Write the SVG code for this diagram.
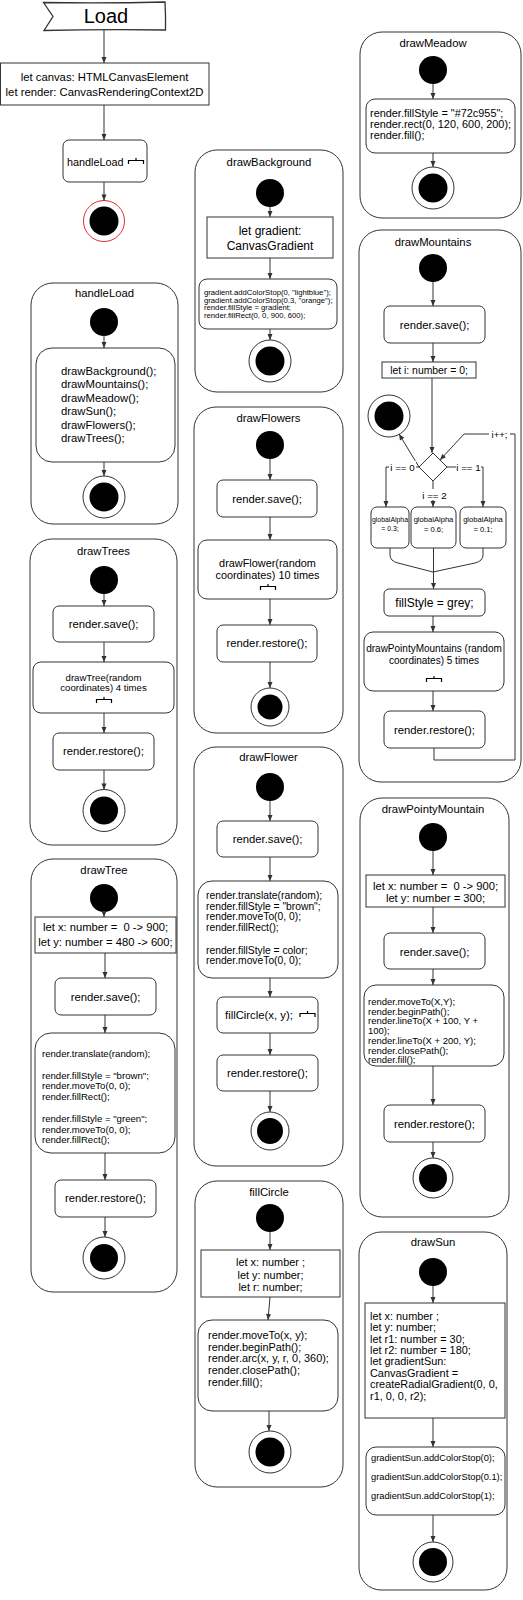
<svg xmlns="http://www.w3.org/2000/svg" width="523" height="1600" viewBox="0 0 523 1600">
<defs>
<style>
text{font-family:"Liberation Sans",Arial,Helvetica,sans-serif;font-size:11.3px;fill:#000}
.m{text-anchor:middle}
.c{fill:#fff;stroke:#333;stroke-width:1}
.b{fill:#fff;stroke:#333;stroke-width:1}
.s{fill:#000}
.fo{fill:#fff;stroke:#333;stroke-width:1}
.e{fill:none;stroke:#333;stroke-width:1;marker-end:url(#a)}
.l{fill:none;stroke:#333;stroke-width:1}
.rk{fill:none;stroke:#000;stroke-width:1.2}
.lb{fill:#fff}
.f7{font-size:7.7px}
.f9{font-size:9.6px}
.f10{font-size:10px}
.f11{font-size:10.9px}
.fb{font-size:10.3px}
.fp{font-size:9.5px}
.f12{font-size:11.2px}
</style>
<marker id="a" markerWidth="8" markerHeight="8" refX="7" refY="4" orient="auto" markerUnits="userSpaceOnUse"><path d="M1,1.5 L7,4 L1,6.5 Z" fill="#333"/></marker>
<path id="rk" d="M0,6 V2.5 H15 V6 M7.5,2.5 V0" class="rk"/>
</defs>
<rect width="523" height="1600" fill="#fff"/>

<g id="load"><path d="M43.5,2.5 Q104,3.5 165,2 Q165.8,16 165.5,30 Q104,29.2 44,30.5 L53,16.5 L43.5,2.5 Z" fill="#fff" stroke="#333" stroke-width="1.3"/><text x="106" y="22.5" class="m" style="font-size:20px">Load</text></g>
<g id="vars"><rect x="0.5" y="63" width="208.5" height="42" class="b"/><text x="104.5" y="81" class="m">let canvas: HTMLCanvasElement</text><text x="104.5" y="96" class="m">let render: CanvasRenderingContext2D</text></g>
<g id="handleLoadCall"><rect x="63" y="140" width="84" height="42" rx="6" class="b"/><text x="67" y="166" style="font-size:10.8px">handleLoad</text><use href="#rk" x="128.5" y="158"/></g>
<g id="mainEnd"><circle cx="104" cy="221" r="20.5" fill="#fff" stroke="#e03030"/><circle cx="104" cy="221" r="14.5" class="s"/></g>

<g id="c-handleLoad"><rect x="31" y="283" width="147" height="241" rx="22" class="c"/><text x="104.5" y="297" class="m">handleLoad</text>
<g id="hl-start"><circle cx="104" cy="322" r="14" class="s"/></g>
<g id="hl-calls"><rect x="36" y="348" width="139" height="114" rx="16" class="b"/><text x="61" y="374.7">drawBackground();</text><text x="61" y="388.2">drawMountains();</text><text x="61" y="401.7">drawMeadow();</text><text x="61" y="415.2">drawSun();</text><text x="61" y="428.7">drawFlowers();</text><text x="61" y="442.2">drawTrees();</text></g>
<g id="hl-end"><circle cx="104" cy="497" r="21" class="fo"/><circle cx="104" cy="497" r="14.5" class="s"/></g></g>

<g id="c-drawTrees"><rect x="30" y="539" width="147" height="306" rx="22" class="c"/><text x="103.5" y="555" class="m">drawTrees</text>
<g id="dts-start"><circle cx="104" cy="580" r="14" class="s"/></g>
<g id="dts-save"><rect x="53" y="606" width="101" height="36" rx="6" class="b"/><text x="103.5" y="628" class="m">render.save();</text></g>
<g id="dts-call"><rect x="33" y="662" width="141" height="51" rx="8" class="b"/><text x="103.5" y="680.5" class="m f9">drawTree(random</text><text x="103.5" y="691" class="m f9">coordinates) 4 times</text><use href="#rk" x="96.5" y="697"/></g>
<g id="dts-restore"><rect x="53" y="733" width="101" height="37" rx="6" class="b"/><text x="103.5" y="755" class="m">render.restore();</text></g>
<g id="dts-end"><circle cx="104" cy="810.5" r="21" class="fo"/><circle cx="104" cy="810.5" r="14" class="s"/></g></g>

<g id="c-drawTree"><rect x="31" y="859" width="146" height="433" rx="22" class="c"/><text x="104" y="874" class="m">drawTree</text>
<g id="dt-start"><circle cx="104" cy="898" r="14" class="s"/></g>
<g id="dt-vars"><rect x="35" y="917" width="141" height="36" class="b"/><text x="105.5" y="931" class="m f12">let x: number = &#160;0 -&gt; 900;</text><text x="105.5" y="946" class="m f12">let y: number = 480 -&gt; 600;</text></g>
<g id="dt-save"><rect x="55" y="978" width="101" height="37" rx="6" class="b"/><text x="105.5" y="1001" class="m">render.save();</text></g>
<g id="dt-body"><rect x="35" y="1033" width="140" height="120" rx="16" class="b"/>
<text x="42" y="1056.5" class="f9">render.translate(random);</text>
<text x="42" y="1078.5" class="f9">render.fillStyle = "brown";</text>
<text x="42" y="1089" class="f9">render.moveTo(0, 0);</text>
<text x="42" y="1099.5" class="f9">render.fillRect();</text>
<text x="42" y="1121.5" class="f9">render.fillStyle = "green";</text>
<text x="42" y="1132.5" class="f9">render.moveTo(0, 0);</text>
<text x="42" y="1143" class="f9">render.fillRect();</text></g>
<g id="dt-restore"><rect x="55" y="1180" width="101" height="37" rx="6" class="b"/><text x="105.5" y="1202" class="m">render.restore();</text></g>
<g id="dt-end"><circle cx="104" cy="1258" r="21" class="fo"/><circle cx="104" cy="1258" r="14" class="s"/></g></g>

<g id="c-drawBackground"><rect x="195" y="150" width="148" height="242" rx="22" class="c"/><text x="269" y="166" class="m">drawBackground</text>
<g id="db-start"><circle cx="270" cy="193" r="14" class="s"/></g>
<g id="db-var"><rect x="207" y="217" width="126" height="41" class="b"/><text x="270" y="234.5" class="m" style="font-size:12px">let gradient:</text><text x="270" y="249.5" class="m" style="font-size:12px">CanvasGradient</text></g>
<g id="db-body"><rect x="199" y="279" width="138" height="50" rx="8" class="b"/>
<text x="204" y="294.8" class="f7">gradient.addColorStop(0, "lightblue");</text>
<text x="204" y="302.6" class="f7">gradient.addColorStop(0.3, "orange");</text>
<text x="204" y="310.4" class="f7">render.fillStyle = gradient;</text>
<text x="204" y="318.2" class="f7">render.fillRect(0, 0, 900, 600);</text></g>
<g id="db-end"><circle cx="270" cy="361" r="21" class="fo"/><circle cx="270" cy="361" r="14.5" class="s"/></g></g>

<g id="c-drawFlowers"><rect x="194" y="407" width="149" height="326" rx="22" class="c"/><text x="268.5" y="422" class="m">drawFlowers</text>
<g id="dfs-start"><circle cx="270" cy="445" r="14" class="s"/></g>
<g id="dfs-save"><rect x="217" y="480" width="100" height="37" rx="6" class="b"/><text x="267" y="503" class="m">render.save();</text></g>
<g id="dfs-call"><rect x="198" y="540" width="139" height="59" rx="9" class="b"/><text x="267.5" y="567" class="m f11">drawFlower(random</text><text x="267.5" y="579" class="m f11">coordinates) 10 times</text><use href="#rk" x="260.5" y="584"/></g>
<g id="dfs-restore"><rect x="217" y="625" width="100" height="37" rx="6" class="b"/><text x="267" y="647" class="m">render.restore();</text></g>
<g id="dfs-end"><circle cx="270" cy="707" r="19" class="fo"/><circle cx="270" cy="707" r="12.5" class="s"/></g></g>

<g id="c-drawFlower"><rect x="194" y="747" width="149" height="419" rx="22" class="c"/><text x="268.5" y="761" class="m">drawFlower</text>
<g id="df-start"><circle cx="270" cy="787" r="14" class="s"/></g>
<g id="df-save"><rect x="217" y="821" width="101" height="36" rx="6" class="b"/><text x="267.5" y="843" class="m">render.save();</text></g>
<g id="df-body"><rect x="198" y="881" width="140" height="97" rx="14" class="b"/>
<text x="206" y="898.8" class="fb">render.translate(random);</text>
<text x="206" y="909.5" class="fb">render.fillStyle = "brown";</text>
<text x="206" y="920" class="fb">render.moveTo(0, 0);</text>
<text x="206" y="930.5" class="fb">render.fillRect();</text>
<text x="206" y="953.5" class="fb">render.fillStyle = color;</text>
<text x="206" y="964" class="fb">render.moveTo(0, 0);</text></g>
<g id="df-fill"><rect x="217" y="997" width="101" height="36" rx="6" class="b"/><text x="225" y="1019">fillCircle(x, y);</text><use href="#rk" x="300" y="1011"/></g>
<g id="df-restore"><rect x="217" y="1055" width="101" height="36" rx="6" class="b"/><text x="267.5" y="1077" class="m">render.restore();</text></g>
<g id="df-end"><circle cx="270" cy="1131" r="19" class="fo"/><circle cx="270" cy="1131" r="13" class="s"/></g></g>

<g id="c-fillCircle"><rect x="195" y="1181" width="148" height="306" rx="22" class="c"/><text x="269" y="1196" class="m">fillCircle</text>
<g id="fc-start"><circle cx="270" cy="1218" r="14" class="s"/></g>
<g id="fc-vars"><rect x="201" y="1250" width="139" height="47" class="b"/><text x="270.5" y="1266" class="m f11">let x: number ;</text><text x="270.5" y="1278.5" class="m f11">let y: number;</text><text x="270.5" y="1291" class="m f11">let r: number;</text></g>
<g id="fc-body"><rect x="198" y="1320" width="140" height="91" rx="14" class="b"/>
<text x="208" y="1339" class="f11">render.moveTo(x, y);</text>
<text x="208" y="1350.7" class="f11">render.beginPath();</text>
<text x="208" y="1362.4" class="f11">render.arc(x, y, r, 0, 360);</text>
<text x="208" y="1374.1" class="f11">render.closePath();</text>
<text x="208" y="1385.8" class="f11">render.fill();</text></g>
<g id="fc-end"><circle cx="270" cy="1452" r="21" class="fo"/><circle cx="270" cy="1452" r="14.5" class="s"/></g></g>

<g id="c-drawMeadow"><rect x="360" y="32" width="161" height="186" rx="22" class="c"/><text x="433" y="47" class="m">drawMeadow</text>
<g id="dm-start"><circle cx="433" cy="70" r="14" class="s"/></g>
<g id="dm-body"><rect x="366" y="99" width="149" height="54" rx="9" class="b"/>
<text x="370" y="117" class="f11">render.fillStyle = "#72c955";</text>
<text x="370" y="128.2" class="f11">render.rect(0, 120, 600, 200);</text>
<text x="370" y="139.4" class="f11">render.fill();</text></g>
<g id="dm-end"><circle cx="433" cy="188" r="21" class="fo"/><circle cx="433" cy="188" r="14.5" class="s"/></g></g>

<g id="c-drawMountains"><rect x="359" y="230" width="162" height="552" rx="22" class="c"/><text x="433" y="246" class="m">drawMountains</text>
<g id="mt-start"><circle cx="433" cy="268" r="14" class="s"/></g>
<g id="mt-save"><rect x="384" y="306" width="101" height="37" rx="6" class="b"/><text x="434.5" y="329" class="m">render.save();</text></g>
<g id="mt-i"><rect x="382" y="362" width="94" height="16" class="b"/><text x="429" y="374" class="m" style="font-size:10.4px">let i: number = 0;</text></g>
<g id="mt-end"><circle cx="389" cy="416" r="21" class="fo"/><circle cx="389" cy="416" r="14.5" class="s"/></g>
<g id="mt-dec"><path d="M433,453 L447,467 L433,481 L419,467 Z" class="b"/></g>
<g id="mt-a1"><rect x="371" y="507" width="38" height="41" rx="6" class="b"/><text x="390" y="521.5" class="m" style="font-size:6.9px">globalAlpha</text><text x="390" y="530.5" class="m" style="font-size:6.9px">= 0.3;</text></g>
<g id="mt-a2"><rect x="411" y="507" width="45" height="41" rx="6" class="b"/><text x="433.5" y="522" class="m" style="font-size:7.6px">globalAlpha</text><text x="433.5" y="532" class="m" style="font-size:7.6px">= 0.6;</text></g>
<g id="mt-a3"><rect x="460" y="507" width="46" height="41" rx="6" class="b"/><text x="483" y="522" class="m" style="font-size:7.6px">globalAlpha</text><text x="483" y="532" class="m" style="font-size:7.6px">= 0.1;</text></g>
<g id="mt-fill"><rect x="384" y="589" width="101" height="27" rx="5" class="b"/><text x="434.5" y="607" class="m" style="font-size:12px">fillStyle = grey;</text></g>
<g id="mt-call"><rect x="364" y="632" width="140" height="59" rx="9" class="b"/><text x="434" y="651.5" class="m f10">drawPointyMountains (random</text><text x="434" y="664" class="m f10">coordinates) 5 times</text><use href="#rk" x="426.5" y="676"/></g>
<g id="mt-restore"><rect x="384" y="711" width="101" height="37" rx="6" class="b"/><text x="434.5" y="734" class="m">render.restore();</text></g></g>

<g id="c-drawPointyMountain"><rect x="360" y="798" width="149" height="419" rx="22" class="c"/><text x="433" y="813" class="m">drawPointyMountain</text>
<g id="pm-start"><circle cx="433" cy="837" r="14" class="s"/></g>
<g id="pm-vars"><rect x="366" y="875" width="139" height="32" class="b"/><text x="435.5" y="890" class="m f12">let x: number = &#160;0 -&gt; 900;</text><text x="435.5" y="902" class="m f12">let y: number = 300;</text></g>
<g id="pm-save"><rect x="384" y="933" width="101" height="36" rx="6" class="b"/><text x="434.5" y="956" class="m">render.save();</text></g>
<g id="pm-body"><rect x="364" y="985" width="140" height="81" rx="12" class="b"/>
<text x="368" y="1005" class="fp">render.moveTo(X,Y);</text>
<text x="368" y="1014.7" class="fp">render.beginPath();</text>
<text x="368" y="1024.4" class="fp">render.lineTo(X + 100, Y +</text>
<text x="368" y="1034.1" class="fp">100);</text>
<text x="368" y="1043.8" class="fp">render.lineTo(X + 200, Y);</text>
<text x="368" y="1053.5" class="fp">render.closePath();</text>
<text x="368" y="1063.2" class="fp">render.fill();</text></g>
<g id="pm-restore"><rect x="384" y="1105" width="101" height="37" rx="6" class="b"/><text x="434.5" y="1127.5" class="m">render.restore();</text></g>
<g id="pm-end"><circle cx="433" cy="1178" r="20" class="fo"/><circle cx="433" cy="1178" r="14" class="s"/></g></g>

<g id="c-drawSun"><rect x="359" y="1232" width="148" height="358" rx="22" class="c"/><text x="433" y="1246" class="m">drawSun</text>
<g id="ds-start"><circle cx="433" cy="1272" r="14" class="s"/></g>
<g id="ds-vars"><rect x="365" y="1303" width="140" height="115" class="b"/>
<text x="370" y="1319.8" class="f11">let x: number ;</text>
<text x="370" y="1331.2" class="f11">let y: number;</text>
<text x="370" y="1342.6" class="f11">let r1: number = 30;</text>
<text x="370" y="1354" class="f11">let r2: number = 180;</text>
<text x="370" y="1365.4" class="f11">let gradientSun:</text>
<text x="370" y="1376.8" class="f11">CanvasGradient =</text>
<text x="370" y="1388.2" class="f11">createRadialGradient(0, 0,</text>
<text x="370" y="1399.6" class="f11">r1, 0, 0, r2);</text></g>
<g id="ds-body"><rect x="366" y="1447" width="139" height="68" rx="10" class="b"/>
<text x="371" y="1461.3" style="font-size:9.3px">gradientSun.addColorStop(0);</text>
<text x="371" y="1480.3" style="font-size:9.3px">gradientSun.addColorStop(0.1);</text>
<text x="371" y="1499.3" style="font-size:9.3px">gradientSun.addColorStop(1);</text></g>
<g id="ds-end"><circle cx="433" cy="1562" r="20" class="fo"/><circle cx="433" cy="1562" r="14" class="s"/></g></g>

<g id="connectors">
<path class="e" d="M104,30 V63"/>
<path class="e" d="M104,105 V140"/>
<path class="e" d="M104,182 V200.5"/>
<path class="e" d="M104,336 V348"/>
<path class="e" d="M104,462 V476"/>
<path class="e" d="M104,594 V606"/>
<path class="e" d="M104,642 V662"/>
<path class="e" d="M104,713 V733"/>
<path class="e" d="M104,770 V789.5"/>
<path class="e" d="M104,912 V917"/>
<path class="e" d="M105,953 V978"/>
<path class="e" d="M105,1015 V1033"/>
<path class="e" d="M105,1153 V1180"/>
<path class="e" d="M105,1217 V1237"/>
<path class="e" d="M270,207 V217"/>
<path class="e" d="M270,258 V279"/>
<path class="e" d="M270,329 V340"/>
<path class="e" d="M270,459 V480"/>
<path class="e" d="M270,517 V540"/>
<path class="e" d="M270,599 V625"/>
<path class="e" d="M270,662 V688"/>
<path class="e" d="M270,801 V821"/>
<path class="e" d="M270,857 V881"/>
<path class="e" d="M270,978 V997"/>
<path class="e" d="M270,1033 V1055"/>
<path class="e" d="M270,1091 V1112"/>
<path class="e" d="M270,1232 V1250"/>
<path class="e" d="M270,1297 L268,1320"/>
<path class="e" d="M269,1411 V1431"/>
<path class="e" d="M433,84 V99"/>
<path class="e" d="M433,153 V167"/>
<path class="e" d="M433,282 V306"/>
<path class="e" d="M433,343 V362"/>
<path class="e" d="M432,378 V453"/>
<path class="e" d="M419,467 L399,434"/>
<path class="e" d="M419,467 H386 V507"/>
<path class="e" d="M447,467 H483 V507"/>
<path class="e" d="M433,481 V507"/>
<path class="l" d="M390,548 V555 Q390,561 398,563 L433,572"/>
<path class="l" d="M483,548 V555 Q483,561 475,563 L433,572"/>
<path class="e" d="M433.5,548 V589"/>
<path class="e" d="M433,616 V632"/>
<path class="e" d="M433,691 V711"/>
<path class="e" d="M434,748 V760 H515 V434 H464 L440,460"/>
<path class="e" d="M433,851 V875"/>
<path class="e" d="M433,907 V933"/>
<path class="e" d="M433,969 V985"/>
<path class="e" d="M433,1066 V1105"/>
<path class="e" d="M433,1142 V1158"/>
<path class="e" d="M433,1286 V1303"/>
<path class="e" d="M433,1418 V1447"/>
<path class="e" d="M433,1515 V1542"/>
<rect x="389" y="461" width="27" height="11" class="lb"/><text x="402.5" y="470.5" class="m" style="font-size:9.8px">i == 0</text>
<rect x="456" y="461" width="25" height="11" class="lb"/><text x="468.5" y="470.5" class="m" style="font-size:9.8px">i == 1</text>
<rect x="421" y="489" width="27" height="11" class="lb"/><text x="434.5" y="498.5" class="m" style="font-size:9.8px">i == 2</text>
<rect x="489" y="429" width="21" height="10" class="lb"/><text x="499.5" y="437.5" class="m" style="font-size:9.5px">i++;</text>
</g>
</svg>
